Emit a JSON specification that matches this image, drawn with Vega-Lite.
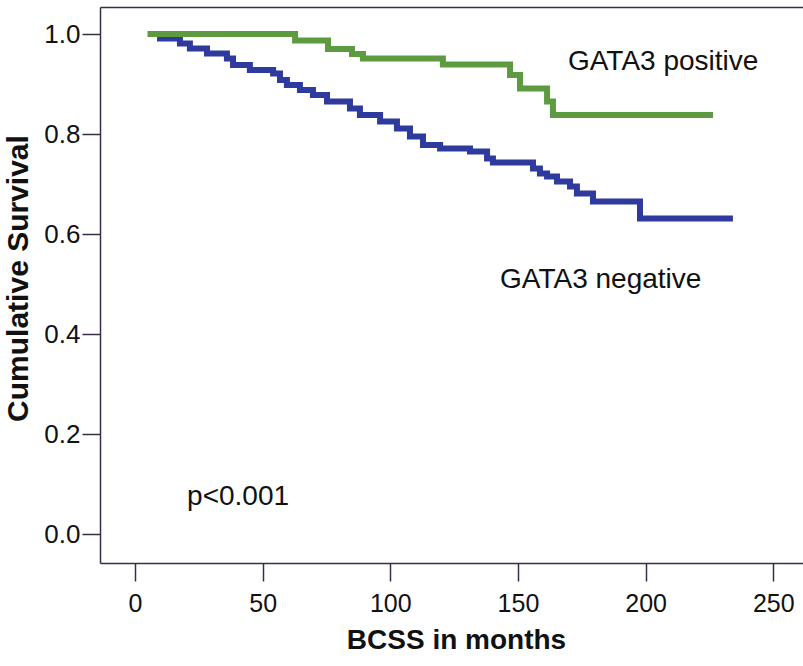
{
  "$schema": "https://vega.github.io/schema/vega-lite/v6.json",
  "width": 703,
  "height": 556,
  "autosize": {"type": "none"},
  "padding": {"left": 100, "top": 7, "right": 0, "bottom": 103},
  "background": "white",
  "config": {
    "view": {"stroke": null},
    "font": "Liberation Sans",
    "axis": {
      "grid": false,
      "domainColor": "#3a2d4a",
      "tickColor": "#3a2d4a",
      "domainWidth": 1.5,
      "tickWidth": 1.5,
      "labelColor": "#111111",
      "titleColor": "#111111",
      "labelFont": "Liberation Sans",
      "titleFont": "Liberation Sans"
    }
  },
  "datasets": {
    "km": [
      {"group": "GATA3 negative", "months": 5, "survival": 1.0},
      {"group": "GATA3 negative", "months": 9.8, "survival": 0.991},
      {"group": "GATA3 negative", "months": 17.6, "survival": 0.981},
      {"group": "GATA3 negative", "months": 21.5, "survival": 0.971},
      {"group": "GATA3 negative", "months": 28.2, "survival": 0.961},
      {"group": "GATA3 negative", "months": 36.0, "survival": 0.951},
      {"group": "GATA3 negative", "months": 38.4, "survival": 0.938},
      {"group": "GATA3 negative", "months": 45.0, "survival": 0.928},
      {"group": "GATA3 negative", "months": 54.1, "survival": 0.921},
      {"group": "GATA3 negative", "months": 56.8, "survival": 0.908},
      {"group": "GATA3 negative", "months": 59.5, "survival": 0.898},
      {"group": "GATA3 negative", "months": 64.6, "survival": 0.888},
      {"group": "GATA3 negative", "months": 69.7, "survival": 0.878},
      {"group": "GATA3 negative", "months": 75.2, "survival": 0.865},
      {"group": "GATA3 negative", "months": 84.2, "survival": 0.851},
      {"group": "GATA3 negative", "months": 88.1, "survival": 0.838},
      {"group": "GATA3 negative", "months": 96.0, "survival": 0.825},
      {"group": "GATA3 negative", "months": 102.6, "survival": 0.811},
      {"group": "GATA3 negative", "months": 107.7, "survival": 0.795},
      {"group": "GATA3 negative", "months": 112.8, "survival": 0.778},
      {"group": "GATA3 negative", "months": 119.5, "survival": 0.771},
      {"group": "GATA3 negative", "months": 131.2, "survival": 0.765},
      {"group": "GATA3 negative", "months": 137.9, "survival": 0.751},
      {"group": "GATA3 negative", "months": 140.2, "survival": 0.743},
      {"group": "GATA3 negative", "months": 155.9, "survival": 0.731},
      {"group": "GATA3 negative", "months": 158.6, "survival": 0.721},
      {"group": "GATA3 negative", "months": 161.4, "survival": 0.715},
      {"group": "GATA3 negative", "months": 165.3, "survival": 0.705},
      {"group": "GATA3 negative", "months": 170.4, "survival": 0.695},
      {"group": "GATA3 negative", "months": 173.1, "survival": 0.681},
      {"group": "GATA3 negative", "months": 179.4, "survival": 0.665},
      {"group": "GATA3 negative", "months": 197.8, "survival": 0.631},
      {"group": "GATA3 negative", "months": 234.2, "survival": 0.631},
      {"group": "GATA3 positive", "months": 5, "survival": 1.0},
      {"group": "GATA3 positive", "months": 62.7, "survival": 0.987},
      {"group": "GATA3 positive", "months": 75.6, "survival": 0.970},
      {"group": "GATA3 positive", "months": 85.0, "survival": 0.960},
      {"group": "GATA3 positive", "months": 89.3, "survival": 0.951},
      {"group": "GATA3 positive", "months": 120.6, "survival": 0.939},
      {"group": "GATA3 positive", "months": 146.9, "survival": 0.918},
      {"group": "GATA3 positive", "months": 150.8, "survival": 0.891},
      {"group": "GATA3 positive", "months": 161.4, "survival": 0.865},
      {"group": "GATA3 positive", "months": 163.7, "survival": 0.838},
      {"group": "GATA3 positive", "months": 226.4, "survival": 0.838}
    ]
  },
  "resolve": {"axis": {"x": "independent"}},
  "layer": [
    {
      "data": {"name": "km"},
      "transform": [{"filter": "datum.group === 'GATA3 negative'"}],
      "mark": {"type": "line", "interpolate": "step-after", "strokeWidth": 6, "color": "#2e3a9e"},
      "encoding": {
        "x": {
          "field": "months", "type": "quantitative",
          "scale": {"domain": [-13.71, 261.65], "nice": false, "zero": false},
          "axis": {
            "orient": "bottom",
            "values": [0, 50, 100, 150, 200, 250],
            "tickSize": 18,
            "labelPadding": 10,
            "labelFontSize": 25,
            "title": "BCSS in months",
            "titleFontSize": 28,
            "titleFontWeight": "bold",
            "titlePadding": 10,
            "titleX": 356
          }
        },
        "y": {
          "field": "survival", "type": "quantitative",
          "scale": {"domain": [-0.058, 1.054], "nice": false, "zero": false},
          "axis": {
            "values": [0, 0.2, 0.4, 0.6, 0.8, 1.0],
            "format": ".1f",
            "tickSize": 18,
            "labelPadding": 2,
            "labelFontSize": 26,
            "title": "Cumulative Survival",
            "titleFontSize": 30,
            "titleFontWeight": "bold",
            "titlePadding": 10,
            "titleY": 271
          }
        }
      }
    },
    {
      "data": {"name": "km"},
      "transform": [{"filter": "datum.group === 'GATA3 positive'"}],
      "mark": {"type": "line", "interpolate": "step-after", "strokeWidth": 6, "color": "#5e9b40"},
      "encoding": {
        "x": {
          "field": "months", "type": "quantitative",
          "axis": {"orient": "top", "labels": false, "ticks": false, "title": null, "domain": true}
        },
        "y": {"field": "survival", "type": "quantitative"}
      }
    },
    {
      "data": {"values": [{"label": "GATA3 positive"}]},
      "mark": {"type": "text", "align": "left", "baseline": "alphabetic", "fontSize": 28, "color": "#111111"},
      "encoding": {
        "x": {"datum": 169.6, "type": "quantitative", "axis": null},
        "y": {"datum": 0.928, "type": "quantitative"},
        "text": {"field": "label"}
      }
    },
    {
      "data": {"values": [{"label": "GATA3 negative"}]},
      "mark": {"type": "text", "align": "left", "baseline": "alphabetic", "fontSize": 28, "color": "#111111"},
      "encoding": {
        "x": {"datum": 143, "type": "quantitative", "axis": null},
        "y": {"datum": 0.492, "type": "quantitative"},
        "text": {"field": "label"}
      }
    },
    {
      "data": {"values": [{"label": "p<0.001"}]},
      "mark": {"type": "text", "align": "left", "baseline": "alphabetic", "fontSize": 28, "color": "#111111"},
      "encoding": {
        "x": {"datum": 20.4, "type": "quantitative", "axis": null},
        "y": {"datum": 0.058, "type": "quantitative"},
        "text": {"field": "label"}
      }
    }
  ]
}
